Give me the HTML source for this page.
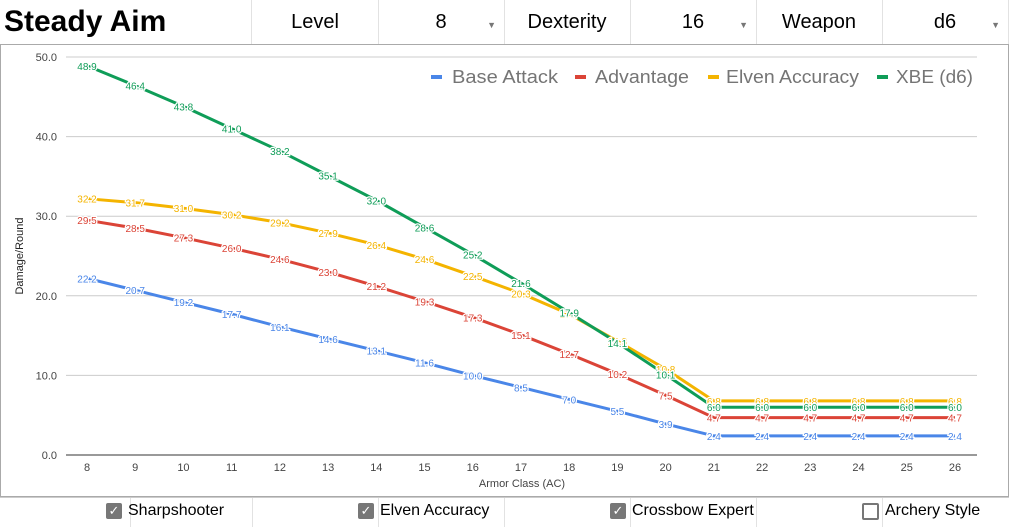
<!DOCTYPE html><html><head><style>
body{margin:0;width:1009px;height:527px;background:#fff;font-family:"Liberation Sans",Arial,sans-serif;overflow:hidden;position:relative}
.c{position:absolute;display:flex;align-items:center;justify-content:center;font-size:20px;color:#000;border-right:1px solid #e2e2e2}
.ar{position:absolute;right:8px;top:20px;font-size:9px;color:#777}
.cb{position:absolute;font-size:16px;display:flex;align-items:center}
.bx{width:16px;height:16px;border-radius:2px;background:#777;color:#fff;font-size:13px;display:flex;align-items:center;justify-content:center;margin-right:6px}
.bx.e{background:#fff;border:2px solid #777;width:13px;height:13px}
</style></head><body>
<div class="c" style="left:0;top:0;width:252px;height:44px;justify-content:flex-start;padding-left:4px;font-weight:bold;font-size:30px;box-sizing:border-box">Steady Aim</div>
<div class="c" style="left:252px;top:0;width:126px;height:44px">Level</div>
<div class="c" style="left:378px;top:0;width:126px;height:44px">8<span class="ar">▼</span></div>
<div class="c" style="left:504px;top:0;width:126px;height:44px">Dexterity</div>
<div class="c" style="left:630px;top:0;width:126px;height:44px">16<span class="ar">▼</span></div>
<div class="c" style="left:756px;top:0;width:126px;height:44px">Weapon</div>
<div class="c" style="left:882px;top:0;width:126px;height:44px">d6<span class="ar">▼</span></div>
<div style="position:absolute;left:0;top:44px;width:1007px;height:451px;border:1px solid #aaa"></div>
<svg id="s" width="1009" height="527" style="position:absolute;left:0;top:0" font-family="Liberation Sans,Arial,sans-serif"></svg>
<div style="position:absolute;left:0;top:497px;width:1009px;height:30px;border-top:1px solid #ccc"></div>
<div style="position:absolute;left:130px;top:498px;width:1px;height:29px;background:#e2e2e2"></div>
<div style="position:absolute;left:252px;top:498px;width:1px;height:29px;background:#e2e2e2"></div>
<div style="position:absolute;left:378px;top:498px;width:1px;height:29px;background:#e2e2e2"></div>
<div style="position:absolute;left:504px;top:498px;width:1px;height:29px;background:#e2e2e2"></div>
<div style="position:absolute;left:630px;top:498px;width:1px;height:29px;background:#e2e2e2"></div>
<div style="position:absolute;left:756px;top:498px;width:1px;height:29px;background:#e2e2e2"></div>
<div style="position:absolute;left:882px;top:498px;width:1px;height:29px;background:#e2e2e2"></div>
<div class="cb" style="left:106px;top:502px"><div class="bx">✓</div>Sharpshooter</div>
<div class="cb" style="left:358px;top:502px"><div class="bx">✓</div>Elven Accuracy</div>
<div class="cb" style="left:610px;top:502px"><div class="bx">✓</div>Crossbow Expert</div>
<div class="cb" style="left:862px;top:502px"><div class="bx e"></div>Archery Style</div>
<script>
var s=document.getElementById('s'),h='';
function X(i){return 87+i*48.22}function Y(v){return 455-v*7.96}
for(var g=0;g<=50;g+=10){h+='<line x1="66" x2="977" y1="'+Y(g)+'" y2="'+Y(g)+'" stroke="'+(g?'#ccc':'#333')+'" stroke-width="1"/>';
h+='<text x="57" y="'+(Y(g)+4)+'" font-size="11" fill="#444" text-anchor="end">'+g.toFixed(1)+'</text>';}
for(var i=0;i<19;i++)h+='<text x="'+X(i)+'" y="471" font-size="11" fill="#444" text-anchor="middle">'+(8+i)+'</text>';
h+='<text x="522" y="487" font-size="11" fill="#444" text-anchor="middle">Armor Class (AC)</text>';
h+='<text transform="translate(23,256) rotate(-90)" font-size="11" fill="#222" text-anchor="middle">Damage/Round</text>';
var D=[['#4a86e8',[22.2,20.7,19.2,17.7,16.1,14.6,13.1,11.6,10.0,8.5,7.0,5.5,3.9,2.4,2.4,2.4,2.4,2.4,2.4]],
['#db4437',[29.5,28.5,27.3,26.0,24.6,23.0,21.2,19.3,17.3,15.1,12.7,10.2,7.5,4.7,4.7,4.7,4.7,4.7,4.7]],
['#f4b400',[32.2,31.7,31.0,30.2,29.2,27.9,26.4,24.6,22.5,20.3,17.7,14.3,10.8,6.8,6.8,6.8,6.8,6.8,6.8]],
['#0f9d58',[48.9,46.4,43.8,41.0,38.2,35.1,32.0,28.6,25.2,21.6,17.9,14.1,10.1,6.0,6.0,6.0,6.0,6.0,6.0]]];
D.forEach(function(d){var p=d[1].map(function(v,i){return X(i)+','+Y(v)}).join(' ');
h+='<polyline points="'+p+'" fill="none" stroke="'+d[0]+'" stroke-width="3"/>';});
D.forEach(function(d){d[1].forEach(function(v,i){h+='<text x="'+X(i)+'" y="'+(Y(v)+4)+'" font-size="10" fill="'+d[0]+'" text-anchor="middle" stroke="#fff" stroke-width="2.5" paint-order="stroke">'+v.toFixed(1)+'</text>';});});
var L=[['Base Attack',431,'#4a86e8',452,106],['Advantage',575,'#db4437',595,94],['Elven Accuracy',708,'#f4b400',726,133],['XBE (d6)',877,'#0f9d58',896,77]];
L.forEach(function(l){h+='<rect x="'+l[1]+'" y="75" width="11" height="4" fill="'+l[2]+'"/><text x="'+l[3]+'" y="83" font-size="18" fill="#757575" textLength="'+l[4]+'" lengthAdjust="spacingAndGlyphs">'+l[0]+'</text>';});
s.innerHTML=h;
</script></body></html>
